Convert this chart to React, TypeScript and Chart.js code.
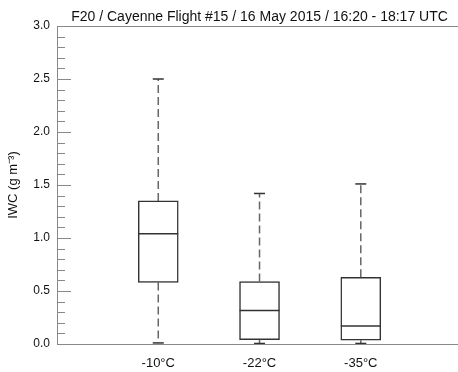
import React, { useEffect, useRef } from "react";
import { Chart, registerables } from "chart.js";

Chart.register(...registerables);

const TITLE = "F20 / Cayenne Flight #15 / 16 May 2015 / 16:20 - 18:17 UTC";
const Y_TITLE = "IWC (g m\u207B\u00B3)";
const categories = ["-10\u00B0C", "-22\u00B0C", "-35\u00B0C"];
const positions = [1, 2, 3];
const whiskerMax = [2.5, 1.42, 1.51];
const q3 = [1.35, 0.59, 0.63];
const median = [1.04, 0.315, 0.17];
const q1 = [0.58, 0.04, 0.035];
const whiskerMin = [0.01, 0.005, 0.005];

const FONT = '"Liberation Sans", Arial, Helvetica, sans-serif';
const isMajor = (v: number) => Math.abs(v * 2 - Math.round(v * 2)) < 1e-6;

const decorPlugin = {
  id: "decor",
  afterDraw(chart: any) {
    const { ctx, chartArea, scales } = chart;
    const y = scales.y;
    const x = scales.x;
    ctx.save();
    ctx.strokeStyle = "#888";
    ctx.lineWidth = 1;
    y.ticks.forEach((t: any) => {
      const py = Math.round(y.getPixelForValue(t.value)) + 0.5;
      ctx.beginPath();
      ctx.moveTo(chartArea.left, py);
      ctx.lineTo(chartArea.left + (isMajor(t.value) ? 14 : 8), py);
      ctx.stroke();
    });
    ctx.beginPath();
    ctx.moveTo(chartArea.left, Math.round(chartArea.top) + 0.5);
    ctx.lineTo(chartArea.right, Math.round(chartArea.top) + 0.5);
    ctx.stroke();
    ctx.fillStyle = "#111";
    ctx.font = `14px ${FONT}`;
    ctx.textAlign = "center";
    ctx.textBaseline = "alphabetic";
    ctx.fillText(TITLE, x.getPixelForValue(2), 21);
    ctx.restore();
  },
};

export default function App() {
  const ref = useRef<HTMLCanvasElement>(null);
  useEffect(() => {
    if (!ref.current) return;
    const whiskerSets: any[] = [];
    positions.forEach((p, i) => {
      whiskerSets.push({
        type: "line",
        data: [{ x: p, y: q3[i] }, { x: p, y: whiskerMax[i] }],
        borderColor: "#666",
        borderWidth: 1.5,
        borderDash: [8, 4],
        pointRadius: 0,
        order: 3,
      });
      whiskerSets.push({
        type: "line",
        data: [{ x: p, y: q1[i] }, { x: p, y: whiskerMin[i] }],
        borderColor: "#666",
        borderWidth: 1.5,
        borderDash: [8, 4],
        pointRadius: 0,
        order: 3,
      });
    });
    const chart = new Chart(ref.current, {
      type: "bar",
      data: {
        datasets: [
          ...whiskerSets,
          {
            type: "bar",
            data: positions.map((p, i) => ({ x: p, y: [q1[i], q3[i]] })),
            backgroundColor: "#fff",
            borderColor: "#333",
            borderWidth: 1.5,
            borderSkipped: false,
            barThickness: 40,
            order: 2,
          },
          {
            type: "scatter",
            data: positions.flatMap((p, i) => [
              { x: p, y: whiskerMax[i] },
              { x: p, y: whiskerMin[i] },
            ]),
            pointStyle: "line",
            pointRadius: 5.5,
            borderColor: "#333",
            borderWidth: 1.5,
            order: 1,
          },
          {
            type: "scatter",
            data: positions.map((p, i) => ({ x: p, y: median[i] })),
            pointStyle: "line",
            pointRadius: 20,
            borderColor: "#333",
            borderWidth: 1.5,
            order: 0,
          },
        ] as any,
      },
      options: {
        animation: false,
        responsive: false,
        events: [],
        layout: { autoPadding: false, padding: { top: 26, left: 0, right: 0, bottom: 0 } },
        plugins: { legend: { display: false }, tooltip: { enabled: false }, title: { display: false } },
        scales: {
          x: {
            type: "linear",
            min: 0,
            max: 3.96,
            offset: false,
            grid: { display: false, drawTicks: false },
            border: { display: true, color: "#888", width: 1 },
            afterBuildTicks: (s: any) => {
              s.ticks = positions.map((v) => ({ value: v }));
            },
            afterFit: (s: any) => {
              s.height = 28;
              s.paddingLeft = 0;
              s.paddingRight = 0;
            },
            ticks: {
              autoSkip: false,
              maxRotation: 0,
              padding: 12,
              color: "#111",
              font: { family: FONT, size: 13 },
              callback: (v: any) => {
                const i = positions.indexOf(Number(v));
                return i >= 0 ? categories[i] : "";
              },
            },
          },
          y: {
            type: "linear",
            min: 0,
            max: 3,
            grid: { display: false, drawTicks: false },
            border: { display: true, color: "#888", width: 1 },
            afterFit: (s: any) => {
              s.width = 57;
            },
            title: {
              display: true,
              text: Y_TITLE,
              color: "#111",
              font: { family: FONT, size: 13 },
              padding: { top: 6, bottom: 0 },
            },
            ticks: {
              stepSize: 0.1,
              maxTicksLimit: 100,
              autoSkip: false,
              padding: 7,
              color: "#111",
              font: { family: FONT, size: 12 },
              callback: (v: any) => (isMajor(Number(v)) ? Number(v).toFixed(1) : ""),
            },
          },
        },
      },
      plugins: [decorPlugin],
    } as any);
    return () => chart.destroy();
  }, []);
  return (
    <div style={{ position: "fixed", left: 0, top: 0, width: 458, height: 372, background: "#fff" }}>
      <canvas ref={ref} width={458} height={372} />
    </div>
  );
}
